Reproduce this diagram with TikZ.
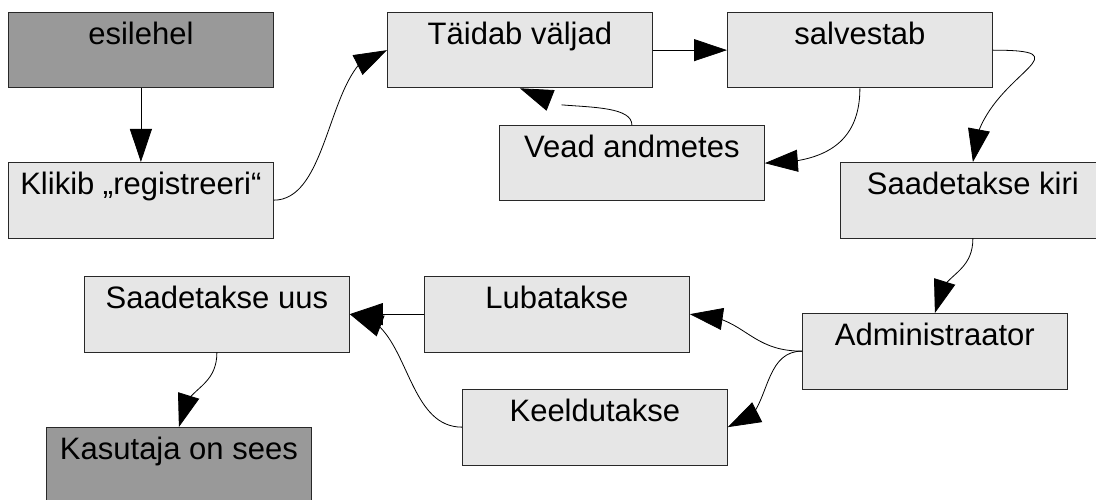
\documentclass[tikz,border=0pt]{standalone}
\usepackage{fontspec}
\setmainfont{Liberation Sans}
\usetikzlibrary{arrows.meta,bending,calc}
\definecolor{lightbox}{RGB}{230,230,230}
\definecolor{darkbox}{RGB}{153,153,153}
\definecolor{edge}{RGB}{40,40,40}
\tikzset{
  box/.style={draw=edge, line width=0.8pt, fill=lightbox, minimum width=265pt,
    inner sep=0pt, text height=32pt, text depth=43.5pt,
    font=\fontsize{31}{36}\selectfont, anchor=north west},
  darkboxstyle/.style={box, fill=darkbox},
  conn/.style={draw=black, line width=0.8pt, -{Triangle[length=33pt,width=22pt]}},
}
\begin{document}
\begin{tikzpicture}[x=1pt,y=-1pt]
\useasboundingbox (0,0) rectangle (1096,500);
\fill[white] (0,0) rectangle (1096,500);
\clip (0,0) rectangle (1096,500);
\node[darkboxstyle] (esi) at (8,12) {esilehel};
\node[box] (klik) at (8,162) {Klikib „registreeri“};
\node[box] (taid) at (387,12) {Täidab väljad};
\node[box] (salv) at (727,12) {salvestab};
\node[box] (vead) at (499,125) {Vead andmetes};
\node[box] (kiri) at (840,162) {Saadetakse kiri};
\node[box] (admin) at (802,313) {Administraator};
\node[box] (lub) at (424,276) {Lubatakse};
\node[box] (keel) at (462,389) {Keeldutakse};
\node[box] (uus) at (84,276) {Saadetakse uus};
\node[darkboxstyle] (kas) at (46,427) {Kasutaja on sees};

\draw[conn] (esi.south) -- (klik.north);
\draw[conn] (klik.east) .. controls ($(klik.east)+(60,0)$) and ($(taid.west)+(-60,0)$) .. (taid.west);
\draw[conn] (taid.east) -- (salv.west);
\draw[conn] (vead.north) .. controls ($(vead.north)+(0,-30)$) and ($(taid.south)+(0,28)$) .. (taid.south);
\draw[conn] (salv.south) .. controls ($(salv.south)+(0,58)$) and ($(vead.east)+(55,0)$) .. (vead.east);
\draw[conn] (salv.east) .. controls ($(salv.east)+(105,0)$) and ($(kiri.north)+(0,-85)$) .. (kiri.north);
\draw[conn] (kiri.south) .. controls ($(kiri.south)+(0,40)$) and ($(admin.north)+(0,-40)$) .. (admin.north);
\draw[conn] (admin.west) .. controls ($(admin.west)+(-55,0)$) and ($(lub.east)+(55,0)$) .. (lub.east);
\draw[conn] (admin.west) .. controls ($(admin.west)+(-45,0)$) and ($(keel.east)+(45,0)$) .. (keel.east);
\draw[conn] (lub.west) -- (uus.east);
\draw[conn] (keel.west) .. controls ($(keel.west)+(-60,0)$) and ($(uus.east)+(60,0)$) .. (uus.east);
\draw[conn] (uus.south) .. controls ($(uus.south)+(0,40)$) and ($(kas.north)+(0,-40)$) .. (kas.north);
\end{tikzpicture}
\end{document}
